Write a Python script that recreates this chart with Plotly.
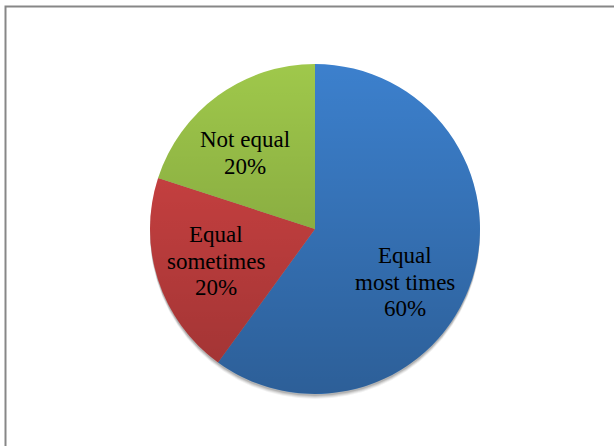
import base64
import math
import plotly.graph_objects as go

# Survey answers and their shares
labels = ["Equal<br>most times", "Equal<br>sometimes", "Not equal"]
shares = [60, 20, 20]
colors = ["#3c80cd", "#d64545", "#9fc84b"]
# fine nudges (px) for the label blocks
label_nudge = [(-9, 21), (0, 0), (-9, 8)]

W, H = 614, 446
cx, cy, r = 315, 229, 165  # pie centre and radius in pixels
FONT = "Liberation Serif"
FS = 23
LINE = 26.5

fig = go.Figure()

fig.add_trace(go.Pie(
    labels=labels,
    values=shares,
    sort=False,
    direction="clockwise",
    rotation=0,
    marker=dict(colors=colors, line=dict(width=0)),
    textinfo="none",
    hoverinfo="label+percent",
    showlegend=False,
    domain=dict(x=[(cx - r) / W, (cx + r) / W], y=[1 - (cy + r) / H, 1 - (cy - r) / H]),
))

# labels: category name and share, centred in each slice
total = sum(shares)
annotations = []
start = 0.0
for lab, val, (nx, ny) in zip(labels, shares, label_nudge):
    mid = (start + val / 2) / total * 2 * math.pi
    start += val
    px = cx + 0.63 * r * math.sin(mid) + nx
    py = cy - 0.63 * r * math.cos(mid) + ny
    lines = lab.split("<br>") + [f"{round(100 * val / total)}%"]
    n = len(lines)
    for k, line in enumerate(lines):
        annotations.append(dict(
            x=px / W, y=1 - py / H, xref="paper", yref="paper",
            text=line, showarrow=False, xanchor="center", yanchor="middle",
            yshift=-(k - (n - 1) / 2) * LINE,
            font=dict(family=FONT, size=FS, color="black"),
        ))

# soft drop shadow under the pie
shapes = []
for off, op in [(5, 0.05), (4, 0.07), (3, 0.09), (2, 0.12)]:
    shapes.append(dict(
        type="circle", xref="paper", yref="paper", layer="below",
        x0=(cx - r) / W, x1=(cx + r) / W,
        y0=1 - (cy + r + off) / H, y1=1 - (cy - r + off) / H,
        line=dict(width=0), fillcolor=f"rgba(0,0,0,{op})",
    ))

# chart-area frame
shapes.append(dict(
    type="rect", xref="paper", yref="paper",
    x0=5.5 / W, x1=1.1, y0=-0.1, y1=1 - 6.5 / H,
    line=dict(color="#878787", width=2), fillcolor="rgba(0,0,0,0)",
))

# vertical shading over the pie (light top, darker bottom)
d = 2 * r
svg = (
    f'<svg xmlns="http://www.w3.org/2000/svg" width="{d}" height="{d}" viewBox="0 0 {d} {d}">'
    '<defs><linearGradient id="g" x1="0" y1="0" x2="0" y2="1">'
    '<stop offset="0" stop-color="#000" stop-opacity="0"/>'
    '<stop offset="1" stop-color="#000" stop-opacity="0.26"/>'
    '</linearGradient></defs>'
    f'<circle cx="{r}" cy="{r}" r="{r}" fill="url(#g)"/></svg>'
)
shade = "data:image/svg+xml;base64," + base64.b64encode(svg.encode()).decode()

fig.update_layout(
    width=W, height=H,
    margin=dict(l=0, r=0, t=0, b=0),
    paper_bgcolor="white", plot_bgcolor="white",
    shapes=shapes,
    annotations=annotations,
    images=[dict(
        source=shade, xref="paper", yref="paper",
        x=(cx - r) / W, y=1 - (cy - r) / H,
        sizex=d / W, sizey=d / H, xanchor="left", yanchor="top",
        sizing="stretch", layer="above",
    )],
)

fig.write_html("out.html")
